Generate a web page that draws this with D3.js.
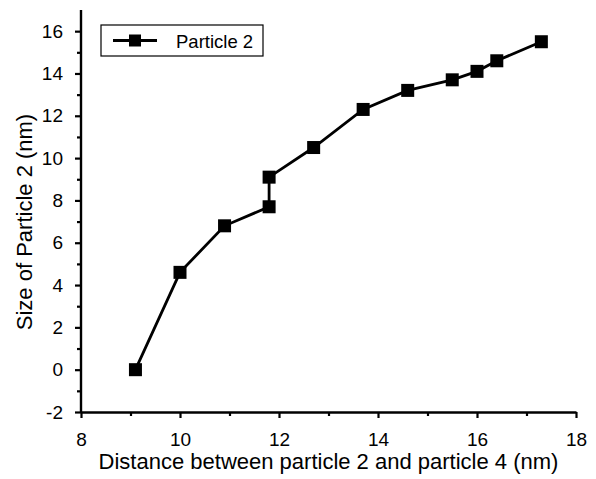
<!DOCTYPE html>
<html>
<head>
<meta charset="utf-8">
<script src="https://cdn.jsdelivr.net/npm/d3@7"></script>
<style>
  body { margin: 0; background: #fff; }
  svg { display: block; font-family: "Liberation Sans", Arial, sans-serif; }
</style>
</head>
<body>
<div id="chart"></div>
<script>
const seriesName = 'Particle 2'
const distance = [9.1, 10.0, 10.9, 11.8, 11.8, 12.7, 13.7, 14.6, 15.5, 16.0, 16.4, 17.3]
const size = [0, 4.6, 6.8, 7.7, 9.1, 10.5, 12.3, 13.2, 13.7, 14.1, 14.6, 15.5]
const xTicks = [8, 10, 12, 14, 16, 18]
const yTicks = [-2, 0, 2, 4, 6, 8, 10, 12, 14, 16]

const width = 596
const height = 479
const margin = { top: 10, right: 20, bottom: 67, left: 81 }

const data = distance.map((d, i) => ({ x: d, y: size[i] }))

const svg = d3.select('#chart').append('svg')
  .attr('width', width)
  .attr('height', height)

const x = d3.scaleLinear().domain([8, 18]).range([margin.left, width - margin.right])
const y = d3.scaleLinear().domain([-2, 17]).range([height - margin.bottom, margin.top])

const fmt = d => String(d)

// axes
const gx = svg.append('g')
  .attr('transform', 'translate(0,' + y(-2) + ')')
  .call(d3.axisBottom(x).tickValues(xTicks).tickFormat(fmt).tickSize(6).tickSizeOuter(0).tickPadding(15))
gx.append('g').call(d3.axisBottom(x).tickValues(d3.range(9, 18, 2)).tickSize(4).tickFormat(''))
  .select('.domain').remove()

const gy = svg.append('g')
  .attr('transform', 'translate(' + x(8) + ',0)')
  .call(d3.axisLeft(y).tickValues(yTicks).tickFormat(fmt).tickSize(6).tickSizeOuter(0).tickPadding(12))
gy.append('g').call(d3.axisLeft(y).tickValues(d3.range(-1, 17, 2)).tickSize(4).tickFormat(''))
  .select('.domain').remove()

svg.selectAll('.domain').attr('stroke', '#000').attr('stroke-width', 2.4)
svg.selectAll('.tick line').attr('stroke', '#000').attr('stroke-width', 2.2)
svg.selectAll('.tick text')
  .attr('font-size', 19)
  .attr('font-family', '"Liberation Sans", Arial, sans-serif')
  .attr('fill', '#000')

// extend y axis line to top
gy.select('.domain').attr('d', 'M0,' + y(-2) + 'V' + margin.top)

// titles
svg.append('text')
  .attr('x', (x(8) + x(18)) / 2)
  .attr('y', 469)
  .attr('text-anchor', 'middle')
  .attr('font-size', 22)
  .text('Distance between particle 2 and particle 4 (nm)')

svg.append('text')
  .attr('transform', 'translate(32,222) rotate(-90)')
  .attr('text-anchor', 'middle')
  .attr('font-size', 22)
  .text('Size of Particle 2 (nm)')

// line + markers
const line = d3.line().x(d => x(d.x)).y(d => y(d.y))
svg.append('path')
  .datum(data)
  .attr('fill', 'none')
  .attr('stroke', '#000')
  .attr('stroke-width', 2.8)
  .attr('d', line)

const ms = 13
svg.append('g').selectAll('rect')
  .data(data)
  .join('rect')
  .attr('x', d => x(d.x) - ms / 2)
  .attr('y', d => y(d.y) - ms / 2)
  .attr('width', ms)
  .attr('height', ms)
  .attr('fill', '#000')

// legend
const lg = svg.append('g').attr('transform', 'translate(101,25)')
lg.append('rect')
  .attr('width', 162).attr('height', 31)
  .attr('fill', '#fff').attr('stroke', '#000').attr('stroke-width', 1.2)
lg.append('line')
  .attr('x1', 12).attr('x2', 56).attr('y1', 15.5).attr('y2', 15.5)
  .attr('stroke', '#000').attr('stroke-width', 2.8)
lg.append('rect')
  .attr('x', 34 - 6).attr('y', 15.5 - 6).attr('width', 12).attr('height', 12)
  .attr('fill', '#000')
lg.append('text')
  .attr('x', 75).attr('y', 22.5)
  .attr('font-size', 18.5)
  .text(seriesName)
</script>
</body>
</html>
